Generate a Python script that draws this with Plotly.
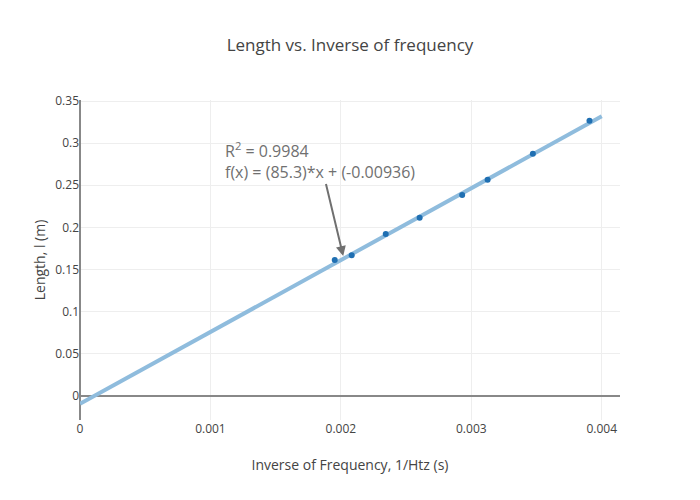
import plotly.graph_objects as go

# tuning fork data: inverse frequency (s) vs. resonance length (m)
inv_freq = [0.001953, 0.002083, 0.002344, 0.002604, 0.002930, 0.003125, 0.003472, 0.003906]
length_m = [0.1614, 0.1669, 0.1922, 0.2115, 0.2385, 0.2566, 0.2875, 0.3266]

fit_x = [0.0, 0.004]
fit_y = [85.3 * x - 0.00936 for x in fit_x]

GREY = "#444"

fig = go.Figure()
fig.add_trace(go.Scatter(
    x=fit_x, y=fit_y, mode="lines", name="fit",
    line=dict(color="#8fbcdd", width=4),
))
fig.add_trace(go.Scatter(
    x=inv_freq, y=length_m, mode="markers", name="data",
    marker=dict(color="#1f6fb2", size=6),
))

fig.add_annotation(
    x=0.002018, y=0.166, xref="x", yref="y",
    text="R<sup>2</sup> = 0.9984<br>f(x) = (85.3)*x + (-0.00936)",
    align="left", showarrow=True, arrowhead=2, arrowsize=1, arrowwidth=2,
    arrowcolor="#707070", ax=-23, ay=-96,
    font=dict(size=16, color="#707070"),
)

# page body adds an 8px offset, so margins are trimmed on the left/top
fig.update_layout(
    title=dict(text="Length vs. Inverse of frequency", x=0.5, xref="paper",
               y=0.938, font=dict(size=17, color=GREY)),
    width=700, height=500, showlegend=False,
    margin=dict(l=72, r=88, t=92, b=88),
    plot_bgcolor="#FFFFFF", paper_bgcolor="#FFFFFF",
    font=dict(family="Open Sans, sans-serif", size=12, color=GREY),
)
fig.update_xaxes(
    title=dict(text="Inverse of Frequency, 1/Htz (s)", font=dict(size=14), standoff=24),
    range=[0, 0.00414], dtick=0.001, gridcolor="#eee",
    zeroline=True, zerolinecolor="#888", zerolinewidth=2,
)
fig.update_yaxes(
    title=dict(text="Length, l (m)", font=dict(size=14), standoff=6),
    range=[-0.0285, 0.3512], dtick=0.05, gridcolor="#eee",
    zeroline=True, zerolinecolor="#888", zerolinewidth=2,
)

fig.write_html("out.html")
